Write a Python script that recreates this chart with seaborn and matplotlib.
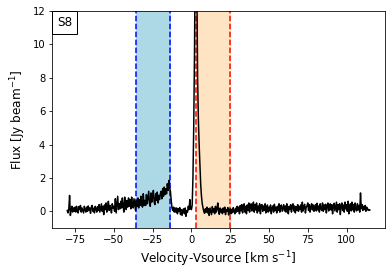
import numpy as np
import pandas as pd
import matplotlib
matplotlib.use("Agg")
import matplotlib.pyplot as plt
from matplotlib.offsetbox import AnchoredText
import seaborn as sns

# velocity channels (km/s), 0.5 km/s spacing
vel_start = -80.0
vel_step = 0.5

flux = [
    # -80 .. -70.5
    0.05, -0.10, 0.15, 0.95, -0.25, 0.05, 0.30, -0.05, 0.20, 0.00, 0.25, -0.05, 0.30, 0.05, -0.10, 0.28, 0.10, 0.35, -0.05, 0.20,
    # -70 .. -60.5
    0.05, -0.10, 0.30, 0.10, -0.05, 0.25, 0.00, 0.32, 0.05, 0.20, -0.12, 0.25, 0.35, 0.00, 0.18, -0.10, 0.30, 0.15, -0.05, 0.28,
    # -60 .. -50.5
    0.05, 0.40, -0.05, 0.20, 0.45, 0.00, 0.30, -0.20, 0.38, 0.10, 0.50, -0.05, 0.25, 0.60, 0.05, 0.35, 0.15, -0.10, 0.45, 0.20,
    # -50 .. -40.5
    0.30, 0.00, 0.75, -0.10, 0.40, 0.90, 0.10, 0.45, 0.15, 0.60, 0.20, 0.80, 0.30, -0.05, 0.85, 0.35, 0.10, 0.65, 0.25, 0.80,
    # -40 .. -30.5
    0.30, 0.70, 0.15, 0.85, 0.35, 0.20, 0.75, 0.40, 0.05, 0.65, 0.30, 0.80, 0.20, 0.70, 0.35, 0.90, 0.40, 0.25, 1.05, 0.35,
    # -30 .. -20.5
    0.65, 0.35, 1.00, 0.45, 0.80, 1.20, 0.45, 0.30, 1.10, 0.55, 0.85, 1.25, 0.55, 0.40, 1.05, 0.65, 1.15, 0.50, 0.95, 0.70,
    # -20 .. -10.5
    1.05, 1.20, 0.75, 1.35, 0.90, 1.45, 1.00, 1.35, 1.05, 1.65, 1.25, 1.85, 1.40, 1.20, 0.65, 0.20, 0.05, 0.25, -0.05, 0.20,
    # -10 .. -0.5
    -0.05, 0.20, -0.15, 0.15, -0.02, 0.22, -0.20, 0.10, -0.25, 0.08, 0.15, -0.15, 0.20, -0.30, 0.05, -0.05, 0.30, 0.10, 0.70, 0.15,
    # 0 .. 9.5
    0.10, 0.35, 2.00, 5.00, 9.50, 16.0, 20.0, 14.0, 8.00, 5.50, 4.00, 2.80, 1.60, 0.90, 0.45, 0.20, 0.00, -0.12, 0.15, -0.05,
    # 10 .. 19.5
    0.25, -0.10, 0.15, -0.25, 0.20, 0.00, -0.20, 0.28, -0.05, 0.15, -0.15, 0.30, -0.05, 0.15, 0.50, 0.00, -0.18, 0.20, -0.05, 0.12,
    # 20 .. 29.5
    -0.15, 0.20, -0.05, 0.25, -0.20, 0.10, 0.00, 0.22, -0.22, 0.05, 0.15, -0.15, 0.12, -0.08, 0.22, 0.00, -0.15, 0.18, -0.05, 0.30,
    # 30 .. 39.5
    0.00, 0.25, -0.15, 0.35, 0.02, 0.40, -0.10, 0.22, 0.45, -0.05, 0.30, -0.15, 0.38, 0.05, 0.50, -0.05, 0.28, 0.45, 0.02, 0.35,
    # 40 .. 49.5
    0.55, -0.05, 0.40, 0.08, 0.50, -0.10, 0.32, 0.02, 0.45, -0.15, 0.28, 0.40, 0.00, 0.32, 0.05, 0.45, -0.10, 0.20, 0.38, -0.05,
    # 50 .. 59.5
    0.25, 0.02, 0.38, -0.15, 0.20, 0.32, -0.05, 0.42, 0.05, 0.25, -0.10, 0.30, 0.05, 0.45, -0.05, 0.28, 0.38, 0.00, 0.20, 0.40,
    # 60 .. 69.5
    0.02, 0.32, -0.05, 0.45, 0.05, -0.15, 0.30, 0.10, 0.40, -0.05, 0.25, 0.45, 0.02, 0.32, -0.10, 0.28, 0.05, 0.40, 0.00, 0.30,
    # 70 .. 79.5
    0.10, 0.38, -0.05, 0.55, 0.02, 0.28, 0.42, -0.10, 0.25, 0.32, 0.50, 0.05, 0.40, -0.05, 0.30, 0.45, 0.08, 0.38, 0.00, 0.28,
    # 80 .. 89.5
    0.40, 0.02, 0.48, 0.08, 0.32, -0.05, 0.45, 0.15, 0.05, 0.50, 0.00, 0.38, 0.10, 0.42, -0.10, 0.32, 0.50, 0.02, 0.30, 0.45,
    # 90 .. 99.5
    0.08, 0.40, -0.15, 0.32, 0.48, 0.02, 0.28, 0.55, -0.05, 0.40, 0.10, 0.45, -0.20, 0.32, 0.50, 0.05, 0.38, -0.05, 0.55, 0.15,
    # 100 .. 109.5
    0.40, 0.00, 0.60, -0.15, 0.32, 0.45, 0.02, 0.55, 0.08, 0.40, -0.05, 0.50, 0.12, 0.02, 0.45, 0.08, 0.35, -0.05, 1.10, 0.15,
    # 110 .. 115
    0.40, 0.05, 0.30, 0.10, 0.35, 0.00, 0.25, 0.08, 0.12, 0.05, 0.08,
]

blue_range = [-36, -14]
red_range = [3, 25]
label = "S8"

velocity = vel_start + vel_step * np.arange(len(flux))
df = pd.DataFrame({"Velocity": velocity, "Flux": flux})

fig = plt.figure(figsize=(392 / 72, 276 / 72), dpi=72)
ax = fig.add_axes([0.133, 0.174, 0.849, 0.786])

ax.axvspan(blue_range[0], blue_range[1], color="lightblue", zorder=0)
ax.axvspan(red_range[0], red_range[1], color="bisque", zorder=0)
for v in blue_range:
    ax.axvline(v, color="b", linestyle="--", lw=1.5)
for v in red_range:
    ax.axvline(v, color="r", linestyle="--", lw=1.5)

sns.lineplot(x="Velocity", y="Flux", data=df, color="k", lw=1.5, ax=ax)

ax.set_ylim(-1, 12)
ax.set_xlabel("Velocity-Vsource [km s$^{-1}$]", fontsize=12)
ax.set_ylabel("Flux [Jy beam$^{-1}$]", fontsize=12)
ax.tick_params(labelsize=10)

at = AnchoredText(label, loc="upper left", prop=dict(size=12), frameon=True,
                  pad=0.4, borderpad=0.0)
at.patch.set_boxstyle("square,pad=0")
ax.add_artist(at)

plt.savefig("out.png", dpi=72)
